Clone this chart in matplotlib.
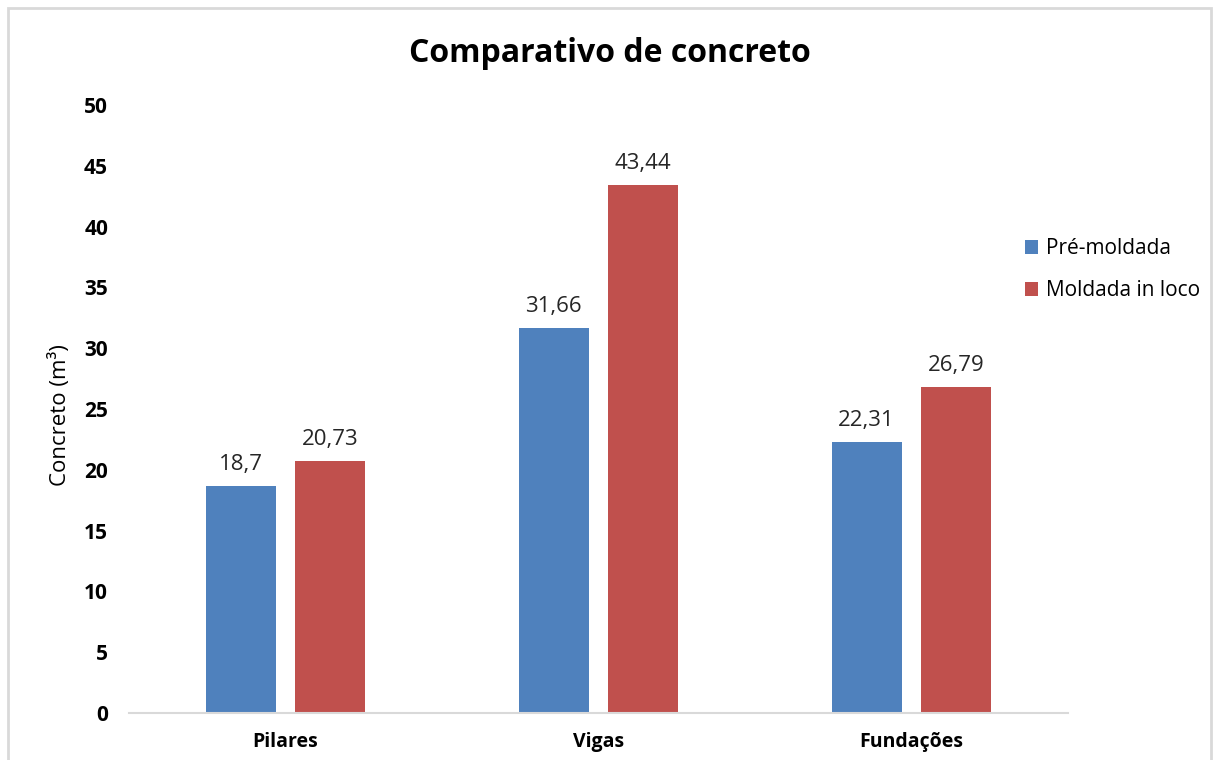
import matplotlib.pyplot as plt
import numpy as np
from matplotlib.patches import Rectangle

plt.rcParams['font.family'] = ['Open Sans', 'DejaVu Sans']

categorias = ['Pilares', 'Vigas', 'Fundações']
pre_moldada = [18.7, 31.66, 22.31]
in_loco = [20.73, 43.44, 26.79]
rotulos_pre = ['18,7', '31,66', '22,31']
rotulos_loco = ['20,73', '43,44', '26,79']

fig = plt.figure(figsize=(12.13, 7.6), dpi=100)
ax = fig.add_axes([0.1063, 0.0618, 0.774, 0.80])

x = np.arange(len(categorias))
w = 0.224
b1 = ax.bar(x - 0.143, pre_moldada, w, color='#4F81BD', label='Pré-moldada')
b2 = ax.bar(x + 0.143, in_loco, w, color='#C0504D', label='Moldada in loco')

# rotulos em cima das barras
for bars, rot in [(b1, rotulos_pre), (b2, rotulos_loco)]:
    for b, r in zip(bars, rot):
        ax.annotate(r, (b.get_x() + b.get_width() / 2, b.get_height()),
                    xytext=(0, 8), textcoords='offset points',
                    ha='center', va='bottom', fontsize=16, color='#262626')

ax.set_xlim(-0.5, 2.5)
ax.set_ylim(0, 50)
ax.set_yticks(range(0, 51, 5))
ax.set_xticks(x)
ax.set_xticklabels(categorias, fontsize=14, fontweight='bold')
for t in ax.get_yticklabels():
    t.set_fontsize(15)
    t.set_fontweight('bold')
ax.tick_params(length=0, pad=15, axis='y')
ax.tick_params(length=0, pad=14, axis='x')
for s in ['top', 'right', 'left']:
    ax.spines[s].set_visible(False)
ax.spines['bottom'].set_color('#d9d9d9')
ax.spines['bottom'].set_linewidth(1.5)

fig.text(60 / 1213, 0.454, 'Concreto (m³)', rotation=90, ha='center',
         va='center', fontsize=16)
fig.text(0.503, 0.930, 'Comparativo de concreto', ha='center', va='center',
         fontsize=23, fontweight='bold')

fig.legend(handles=[b1, b2], loc='upper left',
           bbox_to_anchor=(1015 / 1213, 1 - 228 / 760), frameon=False,
           fontsize=15, handlelength=0.6, handleheight=0.6, handletextpad=0.4,
           labelspacing=1.0, borderpad=0)

fig.patches.append(Rectangle((0.0066, -0.01), 0.992, 1.0, transform=fig.transFigure,
                             fill=False, edgecolor='#d9d9d9', linewidth=2))

fig.savefig('out.png', dpi=100)
